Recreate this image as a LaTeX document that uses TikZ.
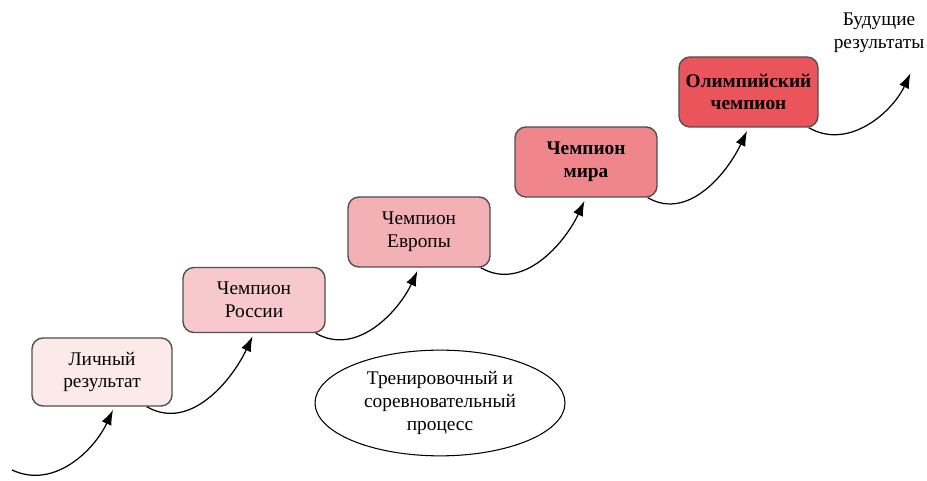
\documentclass[tikz,border=0pt]{standalone}
\usepackage{fontspec}
\setmainfont{Liberation Serif}
\usetikzlibrary{arrows.meta,shapes.geometric}
\definecolor{stageA}{HTML}{FCE9EA}
\definecolor{stageB}{HTML}{F7C9CC}
\definecolor{stageC}{HTML}{F3B1B5}
\definecolor{stageD}{HTML}{EF868B}
\definecolor{stageE}{HTML}{E9555B}
\definecolor{edge}{HTML}{505050}
\tikzset{
	stagebox/.style={draw=edge, line width=0.8pt, rounded corners=0.22cm, align=center,
		minimum width=2.84cm, minimum height=1.36cm, font=\fontsize{11}{13}\selectfont},
	growarrow/.style={-{Latex[length=3mm,width=2.1mm]}, line width=0.7pt, shorten >=2pt},
}

\begin{document}
\begin{tikzpicture}
			%%%%% START %%%%%
			\useasboundingbox (0, 0) rectangle (18.54, 9.62);
			
			\node[stagebox, fill=stageA, minimum width=2.8cm] (lich) at (2.04, 2.18) {Личный\\результат};
			\node[stagebox, fill=stageB, minimum height=1.3cm] (ross) at (5.08, 3.62) {Чемпион\\России};
			\node[stagebox, fill=stageC, minimum height=1.4cm] (evro) at (8.38, 4.98) {Чемпион\\Европы};
			\node[stagebox, fill=stageD, minimum height=1.4cm] (mira) at (11.72, 6.38) {\textbf{Чемпион}\\\textbf{мира}};
			\node[stagebox, fill=stageE, minimum width=2.78cm, minimum height=1.4cm] (olimp) at (14.97, 7.78) {\textbf{Олимпийский}\\\textbf{чемпион}};
			
			\node[align=center, font=\fontsize{11}{13}\selectfont] (future) at (17.58, 8.96) {Будущие\\результаты};
			
			\node[draw, ellipse, line width=0.6pt, minimum width=5cm, minimum height=1.96cm, align=center,
				font=\fontsize{11}{13}\selectfont] (proc) at (8.8, 1.56) {Тренировочный и\\соревновательный\\процесс};
			
			\coordinate (start) at (0.24, 0.22);
			\coordinate (ahead) at (18.24, 8.22);
			
			\draw[growarrow] (start) to[out=-25, in=245] ([xshift=0.25cm]lich.south);
			\draw[growarrow] ([xshift=-0.52cm]lich.south east) to[out=-30, in=245] (ross.south);
			\draw[growarrow] ([xshift=-0.2cm]ross.south east) to[out=-30, in=245] (evro.south);
			\draw[growarrow] ([xshift=-0.2cm]evro.south east) to[out=-30, in=245] (mira.south);
			\draw[growarrow] ([xshift=-0.2cm]mira.south east) to[out=-30, in=245] (olimp.south);
			\draw[growarrow] ([xshift=-0.2cm]olimp.south east) to[out=-30, in=245] (ahead);
			%%%%% END %%%%%
		\end{tikzpicture}
\end{document}
